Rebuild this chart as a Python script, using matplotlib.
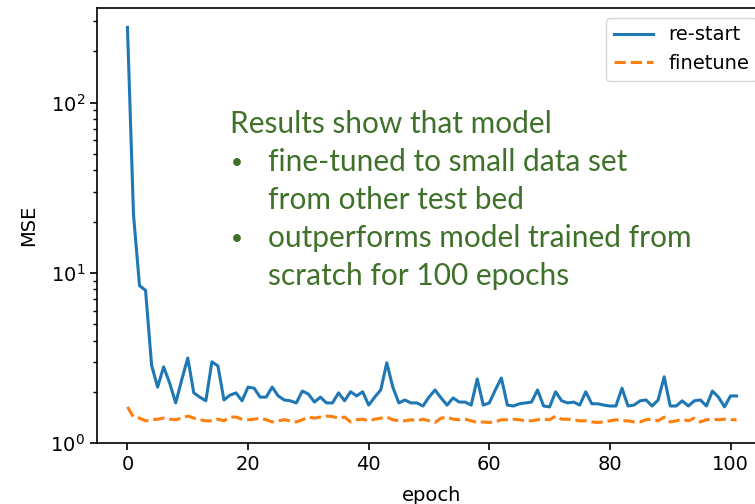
import numpy as np
import matplotlib.pyplot as plt

# MSE per epoch
epochs = np.arange(102)

restart = [277, 22, 8.4, 7.9, 2.87, 2.13, 2.8, 2.25, 1.72, 2.35,
           3.16, 1.97, 1.86, 1.77, 3.0, 2.84, 1.79, 1.91, 1.97, 1.77,
           2.13, 2.1, 1.86, 1.86, 2.13, 1.89, 1.79, 1.77, 1.72, 2.02,
           1.94, 1.74, 1.86, 1.72, 1.72, 1.97, 1.77, 2.0, 1.89, 2.0,
           1.67, 1.86, 2.05, 2.96, 2.13, 1.72, 1.79, 1.72, 1.72, 1.65,
           1.86, 2.05, 1.84, 1.67, 1.84, 1.74, 1.74, 1.67, 2.38, 1.67,
           1.72, 2.05, 2.41, 1.67, 1.65, 1.7, 1.72, 1.74, 2.05, 1.65,
           1.63, 2.0, 1.77, 1.72, 1.74, 1.67, 2.0, 1.7, 1.7, 1.67,
           1.65, 1.65, 2.1, 1.65, 1.67, 1.77, 1.79, 1.65, 1.79, 2.45,
           1.65, 1.65, 1.77, 1.65, 1.77, 1.79, 1.65, 2.02, 1.86, 1.63,
           1.89, 1.89]

finetune = [1.63, 1.42, 1.40, 1.35, 1.37, 1.38, 1.40, 1.38, 1.37, 1.40,
            1.44, 1.40, 1.37, 1.35, 1.35, 1.38, 1.35, 1.42, 1.42, 1.38,
            1.37, 1.38, 1.40, 1.37, 1.33, 1.35, 1.37, 1.35, 1.33, 1.37,
            1.42, 1.40, 1.42, 1.44, 1.43, 1.40, 1.42, 1.33, 1.37, 1.38,
            1.35, 1.38, 1.40, 1.42, 1.37, 1.35, 1.35, 1.37, 1.35, 1.38,
            1.35, 1.32, 1.40, 1.42, 1.38, 1.37, 1.38, 1.35, 1.32, 1.33,
            1.32, 1.33, 1.37, 1.37, 1.38, 1.37, 1.35, 1.35, 1.37, 1.38,
            1.37, 1.44, 1.38, 1.38, 1.37, 1.35, 1.35, 1.33, 1.32, 1.33,
            1.35, 1.37, 1.35, 1.35, 1.33, 1.33, 1.37, 1.38, 1.35, 1.42,
            1.33, 1.35, 1.38, 1.35, 1.40, 1.33, 1.37, 1.38, 1.37, 1.38,
            1.37, 1.37]

note_head = "Results show that model"
note_items = [["fine-tuned to small data set", "from other test bed"],
              ["outperforms model trained from", "scratch for 100 epochs"]]

plt.rcParams["font.size"] = 14

fig = plt.figure(figsize=(7.55, 5.04), dpi=100)
# axes runs past the right edge, like the cropped screenshot
ax = fig.add_axes([97 / 755, 61 / 504, 670 / 755, 435 / 504])

ax.plot(epochs, restart, color="#1f77b4", lw=2.2, label="re-start")
ax.plot(epochs, finetune, color="#ff7f0e", lw=2.2, ls="--", label="finetune")
ax.set_yscale("log")
ax.set_ylim(1, 360)
ax.set_xlim(-5.05, 106.05)
ax.set_xticks([0, 20, 40, 60, 80, 100])
ax.set_xlabel("epoch", labelpad=9)
ax.set_ylabel("MSE", labelpad=9)
ax.tick_params(which="major", length=5, width=1.2)
ax.tick_params(which="minor", length=3, width=1.0)
for s in ax.spines.values():
    s.set_linewidth(1.2)
ax.legend(loc="upper right", fontsize=14)

# green annotation (slide text)
green = "#40712a"
tfont = dict(color=green, fontsize=21.5, family=["Lato", "DejaVu Sans"])
W, H = 755, 504
base = 133
fig.text(230 / W, 1 - base / H, note_head, **tfont)
k = 1
for item in note_items:
    for j, line in enumerate(item):
        y = 1 - (base + 38 * k) / H
        if j == 0:
            fig.text(231 / W, y + 2 / H, "\u2022", color=green, fontsize=15,
                     family=["Lato", "DejaVu Sans"])
        fig.text(268 / W, y, line, **tfont)
        k += 1

fig.savefig("out.png", dpi=100)
